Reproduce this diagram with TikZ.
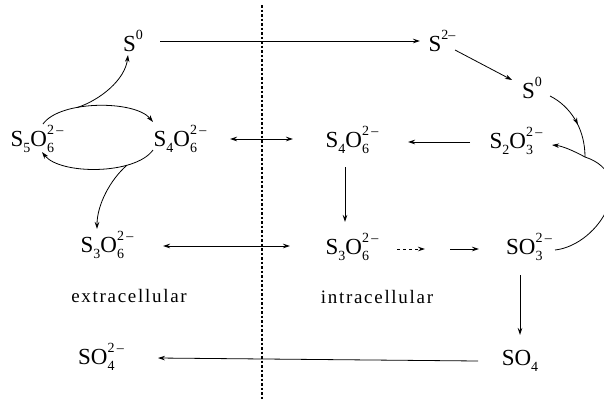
\documentclass[tikz,border=0pt]{standalone}
\usepackage{fontspec}
\setmainfont{Liberation Serif}
\usetikzlibrary{arrows.meta,decorations.markings}
\newcommand{\scr}[1]{{\fontsize{14}{14}\selectfont #1}}
\newcommand{\sbs}[1]{\raisebox{-0.28em}{\scr{#1}}}
\newcommand{\sps}[1]{\raisebox{0.5em}{\scr{#1}}}
\newcommand{\ssp}[2]{\rlap{\sbs{#1}}\sps{#2}}
\begin{document}
\begin{tikzpicture}[x=1pt,y=-1pt,
  chem/.style={font=\fontsize{23}{25}\selectfont, inner sep=0pt},
  lbl/.style={font=\fontsize{19}{22}\selectfont\addfontfeature{LetterSpace=9}, inner sep=0pt},
  tip/.tip={Stealth[length=7pt,width=4.5pt]},
  arr/.style={-tip, line width=0.8pt},
  dar/.style={tip-tip, line width=0.8pt},
  line/.style={line width=0.8pt},
  midarrow/.style={line width=0.8pt, postaction={decorate, decoration={markings, mark=at position #1 with {\arrow{tip}}}}},
  memb/.style={line width=1.3pt, dash pattern=on 2.5pt off 2pt}]
\useasboundingbox (0,0) rectangle (604,399);
\clip (0,0) rectangle (604,399);

% membrane
\draw[memb] (262,5) -- (262,399);

% nodes
\node[chem] (s0a)  at (133,41)  {S\sps{0}};
\node[chem] (s2)   at (442,41)  {S\sps{2–}};
\node[chem] (s0b)  at (532,88)  {S\sps{0}};
\node[chem] (s2o3) at (516,141) {S\sbs{2}O\ssp{3}{2\,–}};
\node[chem] (s4i)  at (352,140) {S\sbs{4}O\ssp{6}{2\,–}};
\node[chem] (s4e)  at (180,139) {S\sbs{4}O\ssp{6}{2\,–}};
\node[chem] (s5)   at (37,139)  {S\sbs{5}O\ssp{6}{2\,–}};
\node[chem] (s3e)  at (107,245) {S\sbs{3}O\ssp{6}{2\,–}};
\node[chem] (s3i)  at (352,247) {S\sbs{3}O\ssp{6}{2\,–}};
\node[chem] (so3)  at (529,247) {SO\ssp{3}{2\,–}};
\node[lbl]  (ext)  at (129,296) {extracellular};
\node[lbl]  (int)  at (377,297) {intracellular};
\node[chem] (so4)  at (520,361) {SO\sbs{4}};
\node[chem] (so4e) at (101,357) {SO\ssp{4}{2\,–}};

\coordinate (J) at (585,157);
\coordinate (g) at (437,249);

% connectors
\draw[arr] ([xshift=27pt]s0a.center) -- ([xshift=-22pt]s2.center);
\draw[arr] ([xshift=13pt,yshift=-9pt]s2.center) -- ([xshift=-20pt,yshift=8pt]s0b.center);
\draw[midarrow=0.55] ([xshift=18pt,yshift=-8pt]s0b.center) .. controls (570,106) and (585,128) .. (J);
\draw[arr] (J) .. controls (572,150) and (562,146) .. ([xshift=36pt,yshift=-4pt]s2o3.center);
\draw[line] ([xshift=26pt,yshift=-3pt]so3.center) .. controls (600,245) and (640,175) .. (J);
\draw[arr] ([xshift=-46pt,yshift=-1pt]s2o3.center) -- ([xshift=56pt,yshift=-2pt]s4i.center);
\draw[dar] ([xshift=50pt]s4e.center) -- ([xshift=-59pt,yshift=1pt]s4i.center);
\draw[arr] ([xshift=-7pt,yshift=-27pt]s4i.center) -- ([xshift=-7pt,yshift=25pt]s3i.center);
\draw[dar] ([xshift=56pt,yshift=-1pt]s3e.center) -- ([xshift=-62pt,yshift=1pt]s3i.center);
\draw[arr, dashed, shorten >=12pt] ([xshift=45pt,yshift=-2pt]s3i.center) -- (g);
\draw[arr, shorten <=13pt] (g) -- ([xshift=-50pt,yshift=-2pt]so3.center);
\draw[arr] ([xshift=-9pt,yshift=-28pt]so3.center) -- ([yshift=26pt]so4.center);
\draw[arr] ([xshift=-42pt]so4.center) -- ([xshift=57pt,yshift=-1pt]so4e.center);

% cycle between S5O6 and S4O6
\draw[arr] ([xshift=6pt,yshift=15pt]s5.center) .. controls (60,100) and (135,100) .. ([xshift=-27pt,yshift=17pt]s4e.center)
  coordinate[pos=0.35] (ta);
\draw[arr] ([xshift=-27pt,yshift=-11pt]s4e.center) .. controls (135,175) and (60,175) .. ([xshift=5pt,yshift=-13pt]s5.center)
  coordinate[pos=0.28] (tb);
\draw[arr] (ta) .. controls (100,100) and (125,80) .. ([xshift=-5pt,yshift=-14pt]s0a.center);
\draw[arr] (tb) .. controls (110,180) and (97,205) .. ([xshift=-10pt,yshift=16pt]s3e.center);
\end{tikzpicture}
\end{document}
